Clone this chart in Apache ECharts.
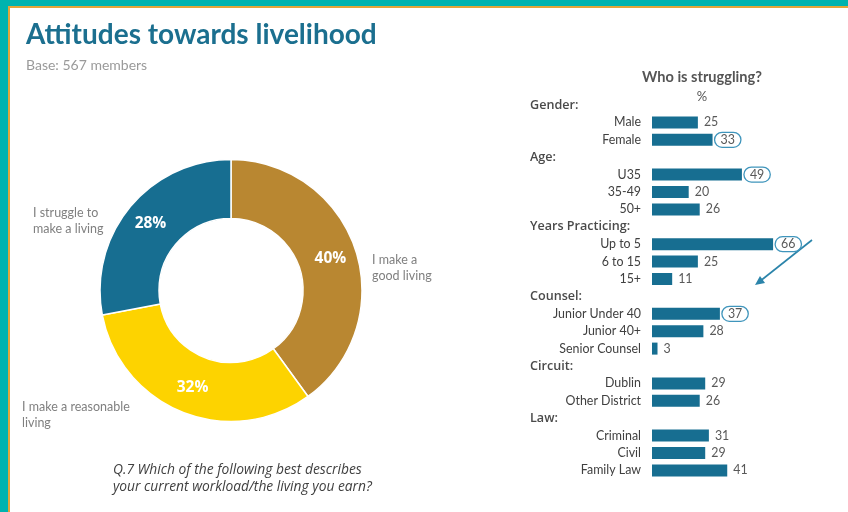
<!DOCTYPE html>
<html>
<head>
<meta charset="utf-8">
<style>
  html, body { margin: 0; padding: 0; background: #fff; }
  #chart { width: 848px; height: 512px; }
</style>
<script src="https://cdn.jsdelivr.net/npm/echarts@6/dist/echarts.min.js"></script>
</head>
<body>
<div id="chart"></div>
<script>
// Donut: overall attitudes
const donutNames = ['I make a\ngood living', 'I make a reasonable\nliving', 'I struggle to\nmake a living'];
const donutValues = [40, 32, 28];
const donutColors = ['#B98731', '#FDD300', '#176E91'];

// "Who is struggling?" breakdown, by group
const groupHeaders = ['Gender:', 'Age:', 'Years Practicing:', 'Counsel:', 'Circuit:', 'Law:'];
const genderCats = ['Male', 'Female'];
const genderVals = [25, 33];
const ageCats = ['U35', '35-49', '50+'];
const ageVals = [49, 20, 26];
const yearsCats = ['Up to 5', '6 to 15', '15+'];
const yearsVals = [66, 25, 11];
const counselCats = ['Junior Under 40', 'Junior 40+', 'Senior Counsel'];
const counselVals = [37, 28, 3];
const circuitCats = ['Dublin', 'Other District'];
const circuitVals = [29, 26];
const lawCats = ['Criminal', 'Civil', 'Family Law'];
const lawVals = [31, 29, 41];
const circledCats = ['Female', 'U35', 'Up to 5', 'Junior Under 40'];

const groupCats = [genderCats, ageCats, yearsCats, counselCats, circuitCats, lawCats];
const groupVals = [genderVals, ageVals, yearsVals, counselVals, circuitVals, lawVals];

// Flatten into rows: each group header takes a row of its own
const rowNames = [];
const rowData = [];
groupHeaders.forEach((h, g) => {
  rowNames.push(h);
  rowData.push(null);
  groupCats[g].forEach((c, i) => {
    rowNames.push(c);
    const item = { value: groupVals[g][i] };
    if (circledCats.includes(c)) {
      item.label = {
        borderColor: '#3F95BC', borderWidth: 1.3, borderRadius: 10,
        padding: [2, 6, 1, 6], distance: 2
      };
    }
    rowData.push(item);
  });
});
const isHeader = v => groupHeaders.includes(v);

const BODY_FONT = 'Lato';
const chart = echarts.init(document.getElementById('chart'), null, { renderer: 'canvas' });

const option = {
  animation: false,
  backgroundColor: '#ffffff',
  textStyle: { fontFamily: BODY_FONT },
  title: {
    text: 'Attitudes towards livelihood',
    subtext: 'Base: 567 members',
    left: 21, top: 16, itemGap: 9,
    textStyle: { fontFamily: 'Lato', fontWeight: 'bold', fontSize: 28, color: '#1B6F8F' },
    subtextStyle: { fontFamily: BODY_FONT, fontSize: 14, color: '#9A9A9A' }
  },
  grid: { left: 652, top: 96.3, width: 183.5, height: 382.8, containLabel: false },
  xAxis: { type: 'value', min: 0, max: 100, show: false },
  yAxis: [
    {
      type: 'category', inverse: true, data: rowNames,
      axisLine: { show: false }, axisTick: { show: false },
      axisLabel: {
        interval: 0, margin: 11, fontSize: 12.4, color: '#404040', fontFamily: BODY_FONT,
        formatter: v => (isHeader(v) ? '' : v)
      }
    },
    {
      type: 'category', inverse: true, data: rowNames, position: 'left',
      axisLine: { show: false }, axisTick: { show: false },
      axisLabel: {
        interval: 0, margin: 122, align: 'left', fontSize: 12.6, fontWeight: 600,
        color: '#4A4A4A', fontFamily: 'Open Sans',
        formatter: v => (isHeader(v) ? v : '')
      }
    }
  ],
  series: [
    {
      type: 'pie',
      center: [231, 290.5],
      radius: [72, 131],
      startAngle: 90,
      clockwise: true,
      itemStyle: { borderColor: '#ffffff', borderWidth: 1.5 },
      label: {
        show: true, position: 'inside', formatter: '{c}%',
        color: '#ffffff', fontWeight: 'bold', fontSize: 15.5, fontFamily: 'Open Sans'
      },
      labelLine: { show: false },
      data: donutNames.map((n, i) => ({ name: n, value: donutValues[i], itemStyle: { color: donutColors[i] } }))
    },
    {
      type: 'bar',
      xAxisIndex: 0, yAxisIndex: 0,
      barWidth: 12,
      itemStyle: { color: '#176E91' },
      label: {
        show: true, position: 'right', distance: 6,
        color: '#595959', fontSize: 12.4, fontFamily: BODY_FONT,
        formatter: p => (p.value == null ? '' : p.value)
      },
      data: rowData
    }
  ],
  graphic: [
    // frame: teal strips with a thin amber rule
    { type: 'rect', shape: { x: 0, y: 0, width: 848, height: 6 }, style: { fill: '#00B3AF' }, silent: true },
    { type: 'rect', shape: { x: 0, y: 0, width: 8, height: 512 }, style: { fill: '#00B3AF' }, silent: true },
    { type: 'rect', shape: { x: 8, y: 6, width: 840, height: 2 }, style: { fill: '#E3A53A' }, silent: true },
    { type: 'rect', shape: { x: 8, y: 6, width: 2, height: 506 }, style: { fill: '#E3A53A' }, silent: true },
    // bar panel heading
    { type: 'text', x: 702, y: 70, style: { text: 'Who is struggling?', textAlign: 'center', fill: '#555555', font: 'bold 14.6px Lato' } },
    { type: 'text', x: 702, y: 90, style: { text: '%', textAlign: 'center', fill: '#555555', font: '13px Lato' } },
    // donut outer labels
    { type: 'text', x: 372, y: 252, style: { text: donutNames[0], fill: '#808080', font: '12.5px Lato', lineHeight: 16 } },
    { type: 'text', x: 22, y: 399, style: { text: donutNames[1], fill: '#808080', font: '12.5px Lato', lineHeight: 16 } },
    { type: 'text', x: 33, y: 205, style: { text: donutNames[2], fill: '#808080', font: '12.5px Lato', lineHeight: 16 } },
    // question
    { type: 'text', x: 113, y: 462, style: { text: 'Q.7 Which of the following best describes\nyour current workload/the living you earn?', fill: '#404040', font: 'italic 13.8px "Open Sans"', lineHeight: 17 } },
    // arrow
    { type: 'line', shape: { x1: 812, y1: 240, x2: 759, y2: 282 }, style: { stroke: '#2B84AA', lineWidth: 1.6 } },
    { type: 'polygon', shape: { points: [[755, 285], [760, 276], [765, 283]] }, style: { fill: '#2B84AA' } }
  ]
};
chart.setOption(option);
</script>
</body>
</html>
